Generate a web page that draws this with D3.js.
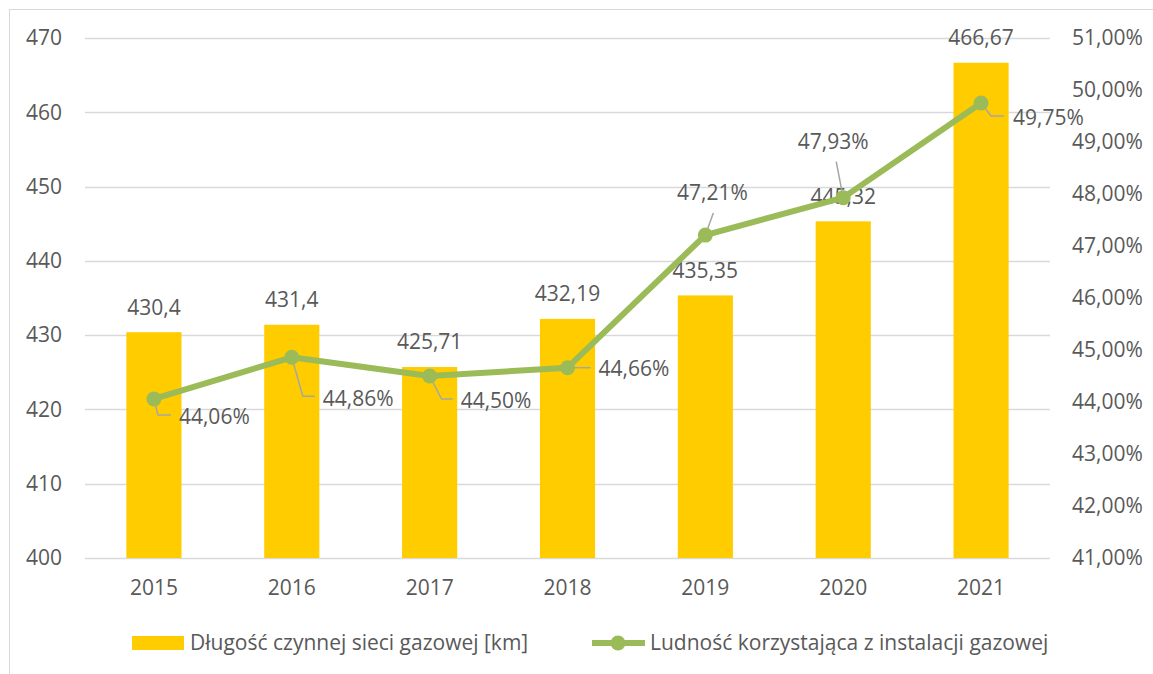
<!DOCTYPE html>
<html>
<head>
<meta charset="utf-8">
<script src="https://cdn.jsdelivr.net/npm/d3@7"></script>
<style>
  body { margin: 0; background: #fff; }
  text { font-family: "Open Sans", sans-serif; fill: #595959; }
</style>
</head>
<body>
<div id="chart"></div>
<script>
const years = ["2015", "2016", "2017", "2018", "2019", "2020", "2021"];
const networkKm = [430.4, 431.4, 425.71, 432.19, 435.35, 445.32, 466.67];
const populationPct = [44.06, 44.86, 44.5, 44.66, 47.21, 47.93, 49.75];
const leftTicks = [400, 410, 420, 430, 440, 450, 460, 470];
const rightTicks = [41, 42, 43, 44, 45, 46, 47, 48, 49, 50, 51];
const seriesNames = ["Długość czynnej sieci gazowej [km]", "Ludność korzystająca z instalacji gazowej"];

// label placement for the line series (offsets from the point), Excel-like callouts
const pctLabelPos = [
  { dx: 25, dy: 18, anchor: "start", leader: [[4, 16], [17, 16]] },
  { dx: 31, dy: 41, anchor: "start", leader: [[11, 39], [23, 39]] },
  { dx: 31, dy: 25, anchor: "start", leader: [[12, 23], [23, 23]] },
  { dx: 31, dy: 1, anchor: "start", leader: [[0, 0], [23, 0]] },
  { dx: 7, dy: -42, anchor: "middle", leader: [[8, -22]] },
  { dx: -10, dy: -56, anchor: "middle", leader: [[-7, -36]] },
  { dx: 32, dy: 15, anchor: "start", leader: [[10, 13], [23, 13]] }
];

const FS = 21;
const fmt = (v, d) => v.toFixed(d).replace(".", ",");
const fmtKm = v => String(v).replace(".", ",");

const W = 1153, H = 674;
const plot = { left: 85, right: 1050, top: 38, bottom: 558 };

const svg = d3.select("#chart").append("svg").attr("width", W).attr("height", H);

// chart frame
svg.append("rect")
  .attr("x", 9.5).attr("y", 9.5).attr("width", W).attr("height", H)
  .attr("fill", "none").attr("stroke", "#d9d9d9");

const x = d3.scaleBand().domain(years).range([plot.left, plot.right])
  .paddingInner(0.6).paddingOuter(0.3);
const yL = d3.scaleLinear().domain([400, 470]).range([plot.bottom, plot.top]);
const yR = d3.scaleLinear().domain([41, 51]).range([plot.bottom, plot.top]);

// gridlines
svg.append("g").selectAll("line").data(leftTicks).join("line")
  .attr("x1", plot.left).attr("x2", plot.right)
  .attr("y1", d => Math.round(yL(d)) + 0.5).attr("y2", d => Math.round(yL(d)) + 0.5)
  .attr("stroke", "#d9d9d9").attr("stroke-width", 1.3);

// axes
const axisL = svg.append("g").attr("transform", `translate(62,0)`)
  .call(d3.axisLeft(yL).tickValues(leftTicks).tickSize(0).tickPadding(0));
const axisR = svg.append("g").attr("transform", `translate(1072,0)`)
  .call(d3.axisRight(yR).tickValues(rightTicks).tickSize(0).tickPadding(0)
    .tickFormat(d => fmt(d, 2) + "%"));
const axisB = svg.append("g").attr("transform", `translate(0,588)`)
  .call(d3.axisBottom(x).tickSize(0).tickPadding(0));
axisB.selectAll("text").attr("dy", "0.35em");
[axisL, axisR, axisB].forEach(a => {
  a.select(".domain").remove();
  a.selectAll("text").attr("font-size", FS).attr("fill", "#595959")
    .attr("font-family", "'Open Sans', sans-serif");
});

// bars
svg.append("g").selectAll("rect").data(networkKm).join("rect")
  .attr("x", (d, i) => x(years[i]))
  .attr("y", d => yL(d))
  .attr("width", x.bandwidth())
  .attr("height", d => yL(400) - yL(d))
  .attr("fill", "#ffcc00");

// bar labels
svg.append("g").selectAll("text").data(networkKm).join("text")
  .attr("x", (d, i) => x(years[i]) + x.bandwidth() / 2)
  .attr("y", d => yL(d) - 25)
  .attr("dy", "0.35em")
  .attr("text-anchor", "middle")
  .attr("font-size", FS)
  .text(d => fmtKm(d));

// line series
const cx = i => x(years[i]) + x.bandwidth() / 2;
const line = d3.line().x((d, i) => cx(i)).y(d => yR(d));
svg.append("path").datum(populationPct)
  .attr("d", line)
  .attr("fill", "none").attr("stroke", "#9bbb59").attr("stroke-width", 6)
  .attr("stroke-linejoin", "round");

// leader lines
svg.append("g").selectAll("path").data(populationPct).join("path")
  .attr("d", (d, i) => {
    const px = cx(i), py = yR(d);
    const pts = [[px, py]].concat(pctLabelPos[i].leader.map(p => [px + p[0], py + p[1]]));
    return d3.line()(pts);
  })
  .attr("fill", "none").attr("stroke", "#a6a6a6").attr("stroke-width", 1.5);

svg.append("g").selectAll("circle").data(populationPct).join("circle")
  .attr("cx", (d, i) => cx(i)).attr("cy", d => yR(d)).attr("r", 7.5)
  .attr("fill", "#9bbb59");

// line labels
svg.append("g").selectAll("text").data(populationPct).join("text")
  .attr("x", (d, i) => cx(i) + pctLabelPos[i].dx)
  .attr("y", (d, i) => yR(d) + pctLabelPos[i].dy)
  .attr("dy", "0.35em")
  .attr("text-anchor", (d, i) => pctLabelPos[i].anchor)
  .attr("font-size", FS)
  .text(d => fmt(d, 2) + "%");

// legend
const legend = svg.append("g");
legend.append("rect").attr("x", 132).attr("y", 636).attr("width", 52).attr("height", 14)
  .attr("fill", "#ffcc00");
legend.append("text").attr("x", 190).attr("y", 643).attr("dy", "0.35em")
  .attr("font-size", FS).text(seriesNames[0]);
legend.append("line").attr("x1", 592).attr("x2", 645).attr("y1", 643).attr("y2", 643)
  .attr("stroke", "#9bbb59").attr("stroke-width", 6);
legend.append("circle").attr("cx", 618).attr("cy", 643).attr("r", 7.5).attr("fill", "#9bbb59");
legend.append("text").attr("x", 650).attr("y", 643).attr("dy", "0.35em")
  .attr("font-size", FS).text(seriesNames[1]);
</script>
</body>
</html>
